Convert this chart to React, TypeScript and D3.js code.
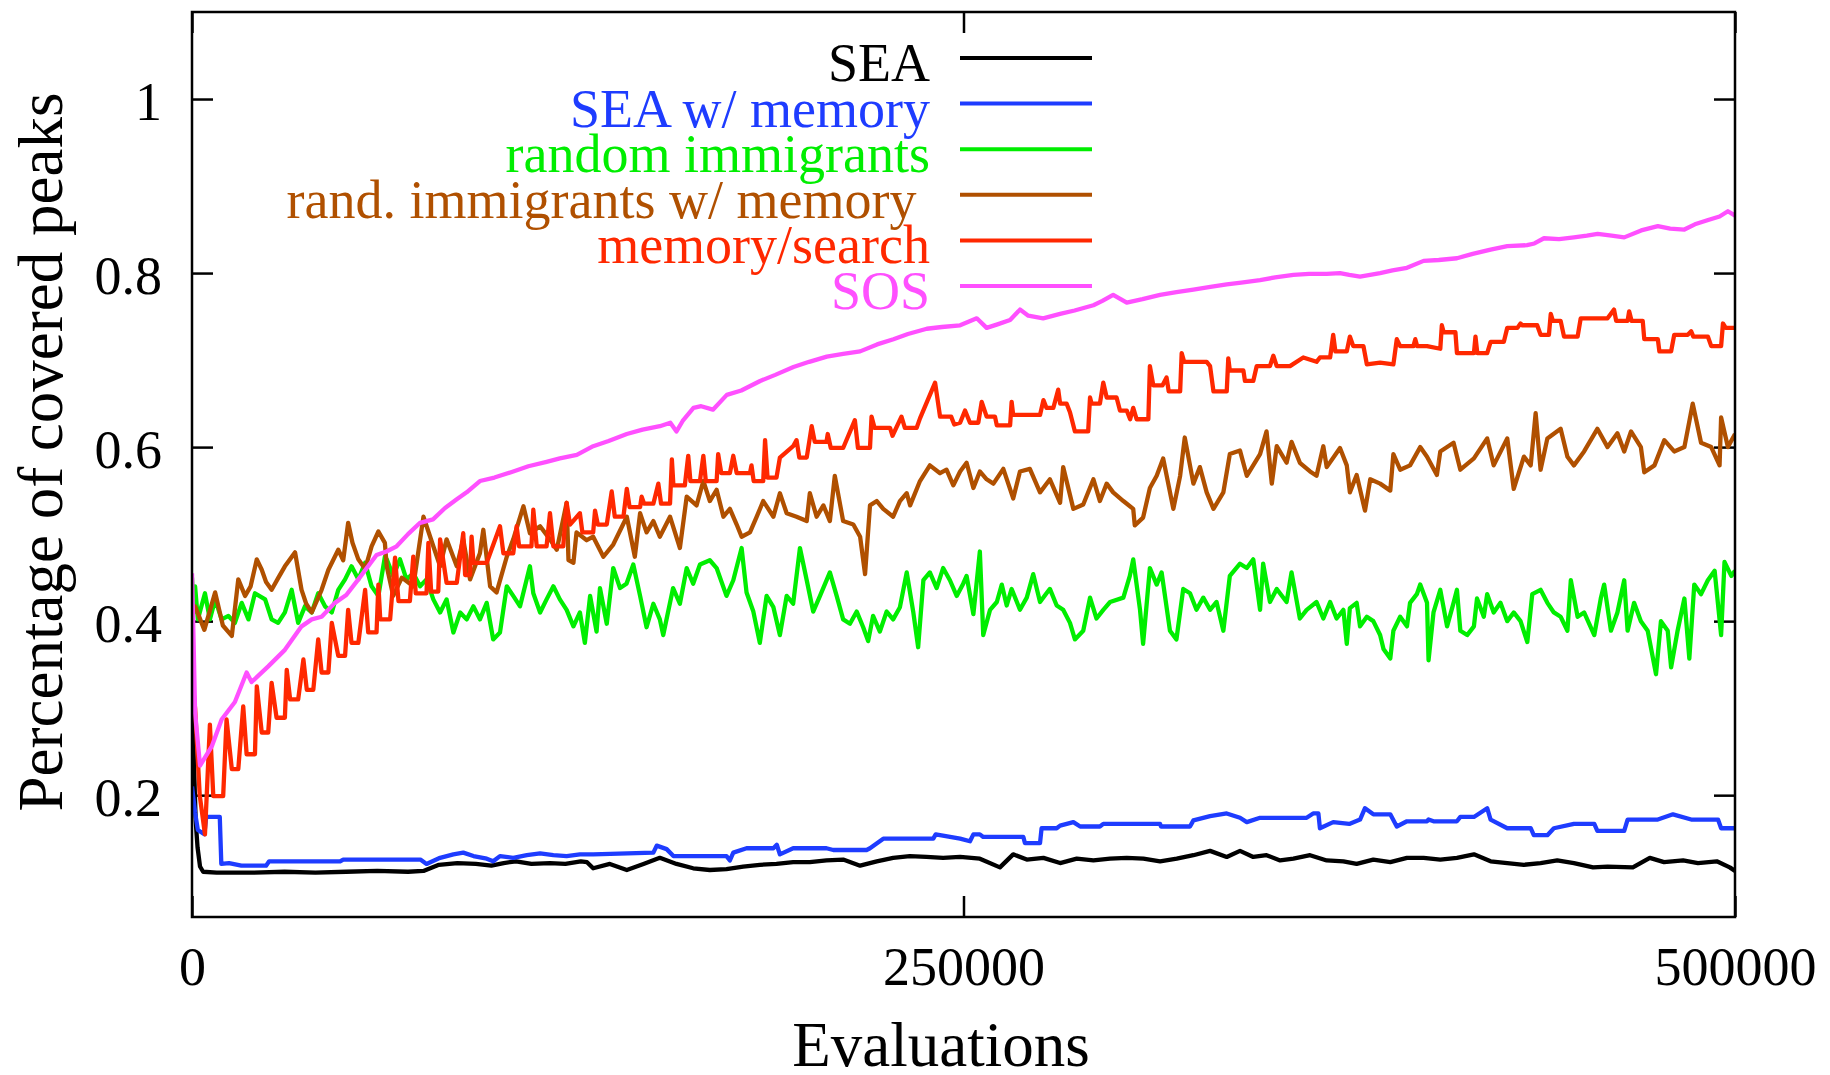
import React, { useEffect, useRef } from 'react';
import * as d3 from 'd3';

const W = 1830;
const H = 1075;

// [evaluations in thousands, share of covered peaks]
const seaData: [number, number][] = [
  [0, 0.33], [0.6, 0.24], [1.2, 0.17], [1.8, 0.14], [2.6, 0.118], [3.6, 0.112], [8, 0.111], [20, 0.111], [30, 0.112], [40, 0.111],
  [50, 0.112], [60, 0.113], [70, 0.112], [75, 0.113], [80, 0.12], [86, 0.122], [92, 0.121], [97, 0.119], [101, 0.122], [105, 0.124],
  [110, 0.121], [116, 0.122], [121, 0.121], [126, 0.124], [128, 0.123], [130, 0.116], [135.4, 0.121], [140.9, 0.114], [146.3, 0.121],
  [151.6, 0.128], [157, 0.121], [162.4, 0.116], [167.8, 0.114], [173.2, 0.115], [178.6, 0.118], [184, 0.12], [189.4, 0.121],
  [194.8, 0.123], [200.2, 0.123], [205.6, 0.125], [211, 0.126], [216.5, 0.119], [221.9, 0.124], [227.2, 0.128], [232.6, 0.13],
  [238, 0.129], [243.4, 0.128], [248.9, 0.129], [255.3, 0.127], [261.8, 0.117], [266.1, 0.132], [270.5, 0.126], [275.9, 0.128],
  [281.3, 0.122], [286.7, 0.127], [292.1, 0.125], [297.5, 0.127], [302.9, 0.128], [308.3, 0.127], [313.7, 0.124], [319.1, 0.127],
  [324.5, 0.131], [329.9, 0.136], [335.3, 0.129], [339.6, 0.136], [343.9, 0.129], [348.2, 0.131], [352.6, 0.125], [356.9, 0.127],
  [362.3, 0.131], [367.7, 0.125], [373.1, 0.124], [377.4, 0.121], [382.8, 0.126], [388.3, 0.123], [393.7, 0.128], [399.1, 0.128],
  [404.5, 0.126], [409.9, 0.128], [415.4, 0.132], [420.8, 0.124], [426.2, 0.122], [431.6, 0.12], [437, 0.122], [442.4, 0.125],
  [447.8, 0.122], [454, 0.117], [458.7, 0.118], [466.9, 0.117], [472.4, 0.128], [477, 0.123], [483.2, 0.125], [488, 0.122],
  [494.1, 0.124], [498.3, 0.117], [500, 0.113],
];

const seaMemData: [number, number][] = [
  [0, 0.21], [1, 0.18], [1.9, 0.16], [4, 0.155], [4.6, 0.175], [9, 0.175], [9.5, 0.121], [12, 0.122], [16, 0.119], [24, 0.119],
  [25, 0.124], [48, 0.124], [49, 0.126], [74, 0.126], [76, 0.121], [80.4, 0.128], [84.7, 0.132], [87.9, 0.134], [91.2, 0.13],
  [95.5, 0.127], [97.6, 0.124], [99.8, 0.13], [104.1, 0.128], [108.5, 0.131], [112.8, 0.133], [117.1, 0.131], [121.4, 0.13],
  [125.7, 0.132], [130, 0.132], [149.5, 0.134], [150.6, 0.142], [153.8, 0.138], [156, 0.13], [173.2, 0.13], [174.3, 0.125],
  [175.4, 0.134], [179.7, 0.139], [188.4, 0.139], [189.5, 0.143], [190.5, 0.132], [194.8, 0.139], [205.6, 0.139], [207.8, 0.137],
  [218.6, 0.137], [219.7, 0.139], [224, 0.15], [240.2, 0.15], [241, 0.155], [248.9, 0.15], [252.1, 0.147], [253.2, 0.155],
  [255.3, 0.155], [256.4, 0.152], [269.4, 0.152], [269.9, 0.145], [274.8, 0.145], [275.3, 0.162], [280.2, 0.162], [281.3, 0.165],
  [285.6, 0.169], [287.8, 0.164], [294.2, 0.164], [295.3, 0.167], [313.7, 0.167], [314, 0.164], [323.4, 0.164], [324.5, 0.171],
  [329.9, 0.176], [335.3, 0.179], [339.6, 0.174], [341.8, 0.169], [346.1, 0.174], [361.2, 0.174], [363.3, 0.179], [365, 0.179],
  [365.5, 0.162], [369.8, 0.169], [375, 0.167], [378.5, 0.172], [380.1, 0.185], [382.8, 0.178], [388.3, 0.178], [390.4, 0.164],
  [393.7, 0.17], [400.2, 0.17], [400.7, 0.172], [402.3, 0.17], [409.9, 0.17], [411, 0.175], [415.4, 0.175], [419.7, 0.185],
  [420.8, 0.172], [426.2, 0.162], [433.8, 0.162], [434.8, 0.154], [439.2, 0.154], [441.3, 0.162], [447.8, 0.167], [454.4, 0.167],
  [455.4, 0.159], [464.1, 0.159], [465.2, 0.172], [475, 0.172], [479.9, 0.178], [485.8, 0.172], [494.5, 0.172], [495.5, 0.162],
  [500, 0.162],
];

const randomImmData: [number, number][] = [
  [0, 0.45], [0.5, 0.41], [1, 0.44], [1.9, 0.402], [4.2, 0.432], [5.8, 0.402], [7.5, 0.425], [9.6, 0.402], [11.8, 0.406], [13.9, 0.398],
  [16.1, 0.421], [18.3, 0.402], [20.4, 0.432], [23.7, 0.425], [25.8, 0.402], [27.9, 0.398], [30.1, 0.41], [32.3, 0.436], [34.4, 0.398],
  [36.6, 0.417], [38.8, 0.41], [40.9, 0.432], [43.1, 0.417], [45.3, 0.41], [47.4, 0.436], [49.6, 0.448], [51.7, 0.463], [53.9, 0.448],
  [56.1, 0.467], [58.2, 0.44], [60.4, 0.429], [62.5, 0.474], [63.1, 0.471], [65.2, 0.452], [67.4, 0.471], [69.5, 0.448], [71.7, 0.455],
  [73.9, 0.44], [76, 0.448], [78.2, 0.425], [80.4, 0.41], [82.5, 0.425], [84.7, 0.387], [86.9, 0.41], [89, 0.402], [91.2, 0.417],
  [93.3, 0.402], [95.5, 0.421], [97.6, 0.379], [99.8, 0.387], [102, 0.44], [104.1, 0.429], [106.3, 0.417], [109.5, 0.463], [110.6, 0.432],
  [112.8, 0.41], [114.9, 0.425], [117.1, 0.44], [119.2, 0.425], [121.4, 0.413], [123.6, 0.394], [125.7, 0.41], [127.3, 0.375], [129, 0.429],
  [131.1, 0.388], [132.2, 0.438], [134.4, 0.397], [136.5, 0.461], [138.7, 0.438], [140.8, 0.443], [143, 0.465], [145.2, 0.429],
  [147.3, 0.393], [149.5, 0.42], [151.6, 0.402], [152.7, 0.384], [155.9, 0.438], [158.1, 0.42], [160.3, 0.461], [162.4, 0.443],
  [164.6, 0.465], [167.8, 0.47], [170, 0.461], [173.2, 0.429], [175.4, 0.447], [178.1, 0.484], [179.7, 0.433], [181.9, 0.411],
  [184, 0.375], [186.2, 0.429], [188.4, 0.416], [190.5, 0.384], [192.7, 0.429], [194.8, 0.42], [197, 0.484], [199.2, 0.447],
  [201.3, 0.411], [203.5, 0.429], [206.7, 0.456], [208.9, 0.429], [211, 0.402], [213.2, 0.397], [215.4, 0.411], [217.5, 0.393],
  [219.1, 0.377], [220.7, 0.406], [222.9, 0.388], [225.1, 0.411], [227.2, 0.402], [229.4, 0.416], [231.6, 0.456], [233.7, 0.411],
  [235.3, 0.37], [237, 0.447], [239.1, 0.456], [241.3, 0.438], [243.4, 0.461], [245.6, 0.447], [247.8, 0.429], [249.9, 0.443],
  [251, 0.452], [253.2, 0.408], [255.3, 0.48], [256.4, 0.384], [258.6, 0.413], [260.8, 0.422], [262.4, 0.442], [264, 0.418],
  [265.6, 0.437], [268.3, 0.413], [270.5, 0.427], [272.6, 0.454], [274.8, 0.422], [276.9, 0.432], [278, 0.437], [280.2, 0.418],
  [282.3, 0.413], [284.5, 0.398], [286.1, 0.379], [288.8, 0.389], [291, 0.427], [293.1, 0.403], [295.3, 0.413], [297.5, 0.422],
  [301.8, 0.427], [303.9, 0.452], [305, 0.471], [307.2, 0.413], [308.2, 0.374], [310.4, 0.461], [312.6, 0.442], [314.2, 0.456],
  [316.9, 0.389], [319, 0.379], [321.2, 0.437], [323.4, 0.432], [325.5, 0.413], [327.7, 0.427], [329.9, 0.413], [332, 0.422],
  [334.2, 0.389], [336.3, 0.452], [339.6, 0.466], [341.8, 0.461], [343.9, 0.471], [346.1, 0.413], [347.1, 0.466], [349.3, 0.422],
  [351.5, 0.437], [354.7, 0.422], [356.3, 0.456], [359, 0.403], [361.2, 0.413], [364.4, 0.422], [366.6, 0.403], [368.8, 0.422],
  [370.9, 0.403], [373.1, 0.413], [374.2, 0.374], [375.2, 0.415], [377.4, 0.421], [378.5, 0.394], [380.7, 0.405], [382.8, 0.4],
  [385, 0.384], [386.1, 0.368], [388.3, 0.357], [389.3, 0.389], [391.5, 0.405], [393.7, 0.394], [394.7, 0.421], [396.9, 0.431],
  [398, 0.442], [400.2, 0.421], [400.7, 0.355], [402.3, 0.41], [404.5, 0.436], [406.7, 0.394], [408.8, 0.421], [409.9, 0.436],
  [411, 0.389], [413.2, 0.384], [415.4, 0.394], [416.4, 0.426], [418.6, 0.405], [419.7, 0.431], [421.8, 0.41], [424, 0.421],
  [426.2, 0.4], [428.3, 0.41], [430.5, 0.4], [432.7, 0.376], [434.3, 0.431], [437, 0.436], [439.2, 0.421], [441.3, 0.41],
  [443.5, 0.405], [445.7, 0.389], [446.8, 0.447], [449, 0.405], [451.1, 0.41], [454.4, 0.384], [456.5, 0.426], [457.6, 0.442],
  [459.8, 0.389], [461.9, 0.41], [464.1, 0.447], [465.2, 0.389], [467.3, 0.421], [469.5, 0.4], [471.7, 0.389], [474.4, 0.339],
  [476, 0.4], [478.2, 0.389], [479.3, 0.347], [481.4, 0.389], [483.6, 0.426], [485.2, 0.357], [486.8, 0.442], [489, 0.431],
  [491.2, 0.447], [493.4, 0.458], [495.5, 0.384], [496.6, 0.468], [498.8, 0.452], [500, 0.458],
];

const randomImmMemData: [number, number][] = [
  [0, 0.41], [1, 0.417], [4, 0.39], [7.5, 0.433], [10, 0.395], [12.9, 0.383], [15, 0.448], [17.2, 0.429], [19, 0.44], [21, 0.471],
  [22.6, 0.459], [24, 0.445], [25.8, 0.436], [28, 0.45], [30.1, 0.463], [33.4, 0.479], [35.5, 0.436], [37, 0.42], [38.8, 0.41],
  [42, 0.436], [44.2, 0.459], [47.4, 0.482], [49, 0.47], [50.6, 0.513], [52, 0.49], [53.9, 0.471], [56.1, 0.46], [58.2, 0.486],
  [60.4, 0.503], [62.5, 0.49], [63.1, 0.463], [65.2, 0.429], [68, 0.45], [71.7, 0.44], [75, 0.52], [78.2, 0.486], [80.4, 0.463],
  [82.5, 0.494], [85.8, 0.463], [87.9, 0.494], [90.1, 0.448], [93.3, 0.478], [94.4, 0.505], [96.6, 0.44], [98.7, 0.433], [102, 0.474],
  [104.1, 0.494], [107.4, 0.532], [109.5, 0.501], [112.8, 0.509], [116, 0.494], [118.2, 0.482], [121.4, 0.536], [122, 0.47],
  [123.6, 0.467], [124.6, 0.502], [127.9, 0.493], [130, 0.497], [133.3, 0.474], [136.5, 0.488], [140.9, 0.52], [143.5, 0.474],
  [145.2, 0.524], [147.3, 0.502], [149.5, 0.515], [151.6, 0.497], [154.9, 0.52], [158.1, 0.484], [160.3, 0.543], [163.5, 0.533],
  [165.7, 0.561], [167.8, 0.538], [170, 0.551], [172.2, 0.52], [174.3, 0.529], [176.5, 0.511], [178.1, 0.497], [180.8, 0.502],
  [183, 0.52], [185.1, 0.538], [188.4, 0.52], [190.5, 0.547], [192.7, 0.524], [195.9, 0.52], [199.2, 0.515], [200.2, 0.547],
  [202.4, 0.52], [204.6, 0.533], [206.7, 0.515], [208.3, 0.567], [211, 0.515], [214.3, 0.511], [216.5, 0.497], [218.1, 0.454],
  [219.7, 0.533], [221.9, 0.538], [224, 0.529], [227.2, 0.52], [229.4, 0.538], [231.6, 0.547], [232.7, 0.533], [235.9, 0.561],
  [239.1, 0.579], [242.4, 0.57], [244.5, 0.574], [246.7, 0.556], [248.9, 0.572], [251, 0.582], [253.2, 0.553], [255.3, 0.572],
  [257.5, 0.563], [259.7, 0.558], [262.9, 0.575], [266.1, 0.541], [268.3, 0.572], [271.5, 0.575], [274.8, 0.548], [278, 0.563],
  [281.3, 0.536], [282.3, 0.577], [285.6, 0.529], [288.8, 0.534], [292.1, 0.563], [294.2, 0.538], [296.4, 0.558], [298.5, 0.548],
  [301.8, 0.538], [305, 0.529], [305.5, 0.51], [308.2, 0.519], [310.4, 0.553], [312.6, 0.567], [314.7, 0.587], [318, 0.529],
  [320.2, 0.567], [321.7, 0.611], [324.5, 0.558], [326.6, 0.577], [328.8, 0.548], [331, 0.529], [334.2, 0.548], [336.3, 0.592],
  [339.6, 0.596], [341.8, 0.567], [346.1, 0.592], [348.2, 0.618], [349.9, 0.558], [351.5, 0.601], [354.7, 0.582], [356.3, 0.606],
  [359, 0.582], [362.3, 0.572], [364.4, 0.567], [366.6, 0.601], [367.7, 0.577], [372, 0.599], [374.2, 0.579], [375.2, 0.548],
  [377.4, 0.568], [380.1, 0.527], [381.8, 0.563], [385, 0.558], [388.3, 0.55], [389.3, 0.592], [391.5, 0.574], [394.7, 0.579],
  [398, 0.6], [400.2, 0.589], [403.4, 0.568], [404.5, 0.595], [408.8, 0.605], [411, 0.574], [415.4, 0.587], [419.7, 0.61],
  [421.8, 0.579], [426.2, 0.61], [428.3, 0.552], [431.6, 0.589], [433.8, 0.579], [435.4, 0.639], [437, 0.574], [439.2, 0.61],
  [443.5, 0.621], [445.7, 0.589], [447.8, 0.579], [451.1, 0.595], [455.4, 0.621], [458.7, 0.6], [461.9, 0.616], [464.1, 0.595],
  [466.3, 0.618], [469.5, 0.6], [470.6, 0.571], [473.9, 0.579], [477.1, 0.608], [480.3, 0.595], [483.6, 0.6], [486.3, 0.65],
  [489, 0.605], [492.3, 0.6], [495, 0.579], [495.5, 0.634], [497.7, 0.6], [500, 0.615],
];

const memSearchData: [number, number][] = [
  [0, 0.34], [1, 0.3], [2.5, 0.2], [4.2, 0.155], [5.8, 0.281], [6.9, 0.199], [10.1, 0.199], [11.2, 0.287], [12.9, 0.23], [15, 0.23],
  [16.6, 0.302], [17.7, 0.247], [20.4, 0.247], [21, 0.325], [22.6, 0.272], [24.7, 0.272], [25.8, 0.329], [27.4, 0.289], [30.1, 0.289],
  [30.7, 0.344], [31.8, 0.31], [34.4, 0.31], [36.1, 0.356], [37.2, 0.321], [39.3, 0.321], [40.9, 0.379], [42, 0.341], [44.2, 0.341],
  [45.3, 0.398], [47.4, 0.36], [49.6, 0.36], [50.6, 0.413], [51.7, 0.375], [53.9, 0.375], [56.1, 0.436], [57.1, 0.387], [59.8, 0.387],
  [60.4, 0.442], [61, 0.402], [64.2, 0.402], [65.8, 0.473], [66.9, 0.423], [70.6, 0.423], [71.7, 0.474], [72.5, 0.432], [76, 0.432],
  [76.6, 0.49], [77.5, 0.434], [79.8, 0.434], [80.4, 0.494], [82.5, 0.444], [85.8, 0.444], [87.9, 0.501], [88.5, 0.453], [90.1, 0.453],
  [90.6, 0.497], [91.2, 0.467], [95.5, 0.467], [99.8, 0.509], [100.9, 0.478], [104.1, 0.478], [105.2, 0.509], [106, 0.486], [110, 0.486],
  [110.6, 0.528], [111.7, 0.486], [114.9, 0.486], [116, 0.524], [117.1, 0.486], [120.3, 0.486], [121.4, 0.536], [122.5, 0.511],
  [125.7, 0.524], [126.5, 0.502], [130, 0.502], [130.6, 0.527], [131.5, 0.511], [134.4, 0.511], [136, 0.549], [137, 0.52],
  [139.8, 0.52], [140.9, 0.552], [141.8, 0.531], [145.2, 0.531], [145.7, 0.543], [146.5, 0.535], [149.5, 0.535], [151.1, 0.558],
  [152, 0.535], [154.9, 0.535], [155.5, 0.586], [156, 0.556], [159.7, 0.556], [160.8, 0.59], [161.5, 0.561], [164.6, 0.561],
  [165.7, 0.59], [166.5, 0.561], [170, 0.561], [170.5, 0.592], [171.5, 0.57], [174.3, 0.57], [175.4, 0.59], [176.5, 0.57],
  [180.8, 0.57], [181.3, 0.579], [182, 0.561], [185.1, 0.561], [185.7, 0.608], [186.5, 0.565], [189.4, 0.565], [190.5, 0.588],
  [194.8, 0.601], [195.9, 0.608], [196.8, 0.588], [199.2, 0.588], [200.8, 0.624], [201.8, 0.606], [205.6, 0.606], [206, 0.615],
  [207, 0.599], [211, 0.599], [214.8, 0.631], [215.8, 0.599], [219.7, 0.599], [220.2, 0.635], [221.2, 0.622], [226.2, 0.622],
  [227, 0.613], [229.9, 0.635], [231, 0.622], [234.8, 0.622], [235.9, 0.633], [240.8, 0.674], [242.4, 0.635], [246, 0.635],
  [247, 0.626], [248.9, 0.628], [250.5, 0.642], [252.1, 0.628], [254.8, 0.628], [255.9, 0.652], [257.5, 0.635], [260.2, 0.635],
  [260.8, 0.625], [265.1, 0.625], [265.6, 0.652], [266.1, 0.637], [274.8, 0.637], [275.9, 0.654], [276.9, 0.645], [279.1, 0.645],
  [280.7, 0.666], [281.3, 0.65], [283.4, 0.65], [284.5, 0.64], [286.1, 0.618], [290.4, 0.618], [291, 0.657], [291.5, 0.65],
  [294.2, 0.65], [295.3, 0.674], [296.4, 0.657], [299.6, 0.657], [300.7, 0.642], [302.9, 0.642], [304, 0.632], [305, 0.645],
  [306.1, 0.632], [309.9, 0.632], [310.4, 0.693], [311.5, 0.671], [314.5, 0.671], [315.8, 0.68], [316.5, 0.664], [320.2, 0.664],
  [320.7, 0.708], [321.5, 0.698], [328.8, 0.698], [329.9, 0.693], [331, 0.664], [335.3, 0.664], [335.8, 0.702], [336.3, 0.688],
  [340.7, 0.688], [341.2, 0.676], [343.9, 0.676], [345, 0.693], [349.3, 0.693], [350.4, 0.705], [351.5, 0.693], [355.8, 0.693],
  [360.1, 0.703], [364.4, 0.698], [365.5, 0.703], [368.8, 0.703], [369.8, 0.729], [370.5, 0.71], [374.2, 0.71], [375.2, 0.727],
  [376.3, 0.716], [379.6, 0.716], [380.7, 0.695], [385, 0.697], [389.3, 0.695], [390.4, 0.724], [391.5, 0.716], [395.8, 0.716],
  [396.4, 0.724], [397, 0.716], [400.2, 0.716], [404.5, 0.713], [405, 0.74], [405.6, 0.732], [409.4, 0.732], [409.9, 0.708],
  [415.4, 0.708], [415.9, 0.727], [416.5, 0.708], [419.7, 0.708], [420.8, 0.721], [425.1, 0.721], [426.2, 0.737], [429.5, 0.737],
  [430.5, 0.742], [431, 0.74], [435.9, 0.74], [437, 0.729], [439.7, 0.729], [440.3, 0.753], [441, 0.745], [443.5, 0.745],
  [444.6, 0.727], [449, 0.727], [450, 0.748], [458.7, 0.748], [460.8, 0.758], [461.5, 0.745], [465.2, 0.745], [465.7, 0.756],
  [466.5, 0.745], [470.1, 0.745], [470.6, 0.724], [475, 0.724], [475.5, 0.71], [479.3, 0.71], [480.3, 0.729], [484.7, 0.729],
  [485.8, 0.733], [486.5, 0.727], [491.2, 0.727], [492.3, 0.716], [495.5, 0.716], [496.1, 0.742], [497, 0.737], [500, 0.737],
];

const sosData: [number, number][] = [
  [0, 0.455], [0.5, 0.38], [1, 0.295], [2.6, 0.234], [6.4, 0.256], [9.6, 0.287], [13.9, 0.307], [17.7, 0.341], [19.3, 0.33],
  [24.7, 0.348], [30.1, 0.367], [35.5, 0.394], [38.8, 0.402], [42, 0.405], [46.3, 0.421], [50, 0.43], [53.9, 0.448], [59.8, 0.476],
  [63, 0.48], [66.3, 0.486], [70, 0.5], [73.9, 0.513], [78.1, 0.517], [82, 0.53], [85.8, 0.54], [89, 0.548], [93.3, 0.561], [98, 0.565],
  [104.1, 0.572], [109, 0.578], [114.9, 0.583], [119.2, 0.587], [124.7, 0.591], [130, 0.601], [135, 0.607], [140.9, 0.615],
  [146, 0.62], [151.6, 0.624], [155, 0.628], [157, 0.618], [159, 0.63], [162.5, 0.645], [165, 0.647], [168.8, 0.643], [173.3, 0.66],
  [178, 0.665], [184.1, 0.676], [189, 0.683], [194.9, 0.692], [200, 0.698], [205.7, 0.704], [211, 0.707], [216.5, 0.71], [222, 0.718],
  [227.3, 0.724], [232, 0.73], [238.1, 0.736], [243, 0.738], [248.9, 0.74], [254.3, 0.748], [257.5, 0.737], [261, 0.741],
  [265.1, 0.746], [268.3, 0.758], [271, 0.751], [275.8, 0.748], [281.3, 0.753], [286, 0.757], [292.1, 0.763], [295, 0.768],
  [298.5, 0.775], [302.9, 0.766], [308, 0.77], [313.7, 0.775], [319, 0.778], [324.5, 0.781], [330, 0.784], [335.3, 0.787],
  [340, 0.789], [346.1, 0.792], [351, 0.795], [356.9, 0.798], [362, 0.799], [367.7, 0.799], [372, 0.8], [375, 0.798], [378.5, 0.796],
  [385, 0.8], [389, 0.803], [393.7, 0.806], [399.1, 0.814], [404, 0.815], [409.9, 0.817], [415, 0.822], [420.8, 0.827],
  [426.2, 0.831], [432.6, 0.832], [435, 0.834], [438.1, 0.84], [443, 0.839], [447.8, 0.841], [452, 0.843], [455.5, 0.845],
  [460, 0.843], [464.1, 0.841], [469.6, 0.849], [475, 0.854], [479, 0.851], [483.6, 0.85], [487, 0.856], [491.3, 0.861],
  [495, 0.865], [497.7, 0.871], [500, 0.866],
];

const seriesNames = ['SEA', 'SEA w/ memory', 'random immigrants', 'rand. immigrants w/ memory ', 'memory/search', 'SOS'];
const seriesColors = ['#000000', '#1e3cff', '#00ee00', '#b05000', '#ff2800', '#ff50ff'];
const seriesData = [seaData, seaMemData, randomImmData, randomImmMemData, memSearchData, sosData];

const xTicks = [0, 250000, 500000];
const yTicks = [0.2, 0.4, 0.6, 0.8, 1];

const App = () => {
  const svgRef = useRef<SVGSVGElement>(null);

  useEffect(() => {
    const left = 192, right = 1735, top = 12, bottom = 917;
    const font = '"Liberation Serif", "Times New Roman", serif';

    const x = d3.scaleLinear().domain([0, 500000]).range([left, right]);
    const y = d3.scaleLinear().domain([0.06, 1.1]).range([bottom, top]);

    const svg = d3.select(svgRef.current);
    svg.selectAll('*').remove();
    svg.append('rect').attr('width', W).attr('height', H).attr('fill', '#fff');

    svg.append('clipPath').attr('id', 'plot-clip')
      .append('rect')
      .attr('x', left).attr('y', top)
      .attr('width', right - left).attr('height', bottom - top);

    // inward ticks with labels on left / bottom
    const yAxis = svg.append('g')
      .attr('transform', `translate(${left},0)`)
      .call(d3.axisLeft(y).tickValues(yTicks).tickSize(-21).tickPadding(30).tickFormat(d => String(d)));
    const xAxis = svg.append('g')
      .attr('transform', `translate(0,${bottom})`)
      .call(d3.axisBottom(x).tickValues(xTicks).tickSize(-21).tickPadding(30).tickFormat(d => String(d)));
    // mirrored ticks on right / top
    const yAxisR = svg.append('g')
      .attr('transform', `translate(${right},0)`)
      .call(d3.axisRight(y).tickValues(yTicks).tickSize(-21).tickFormat(() => ''));
    const xAxisT = svg.append('g')
      .attr('transform', `translate(0,${top})`)
      .call(d3.axisTop(x).tickValues(xTicks).tickSize(-21).tickFormat(() => ''));

    [yAxis, xAxis, yAxisR, xAxisT].forEach(g => {
      g.select('.domain').remove();
      g.selectAll('line').attr('stroke', '#000').attr('stroke-width', 2.5);
      g.attr('font-family', font).attr('font-size', 54);
      g.selectAll('text').attr('fill', '#000');
    });
    yAxis.selectAll('text').attr('dy', '0.37em');

    const line = d3.line<[number, number]>()
      .x(d => x(d[0] * 1000))
      .y(d => y(d[1]));

    svg.append('g').attr('clip-path', 'url(#plot-clip)')
      .selectAll('path')
      .data(seriesData)
      .enter().append('path')
      .attr('d', d => line(d))
      .attr('fill', 'none')
      .attr('stroke', (d, i) => seriesColors[i])
      .attr('stroke-width', 4.3)
      .attr('stroke-linejoin', 'round');

    svg.append('rect')
      .attr('x', left).attr('y', top)
      .attr('width', right - left).attr('height', bottom - top)
      .attr('fill', 'none').attr('stroke', '#000').attr('stroke-width', 2.5);

    // legend, top-left inside the plot
    const legend = svg.append('g').attr('font-family', font).attr('font-size', 54);
    seriesNames.forEach((name, i) => {
      const ly = 58 + i * 45.6;
      legend.append('text')
        .attr('x', 930).attr('y', ly + 23)
        .attr('text-anchor', 'end')
        .style('white-space', 'pre')
        .attr('fill', seriesColors[i])
        .text(name);
      legend.append('line')
        .attr('x1', 960).attr('x2', 1092)
        .attr('y1', ly).attr('y2', ly)
        .attr('stroke', seriesColors[i]).attr('stroke-width', 4);
    });

    svg.append('text')
      .attr('transform', 'translate(62,452) rotate(-90)')
      .attr('text-anchor', 'middle')
      .attr('font-family', font).attr('font-size', 63)
      .text('Percentage of covered peaks');

    svg.append('text')
      .attr('x', 941).attr('y', 1066)
      .attr('text-anchor', 'middle')
      .attr('font-family', font).attr('font-size', 63)
      .text('Evaluations');
  }, []);

  return (
    <svg ref={svgRef} width={W} height={H} style={{ position: 'absolute', left: 0, top: 0 }} />
  );
};

export default App;
